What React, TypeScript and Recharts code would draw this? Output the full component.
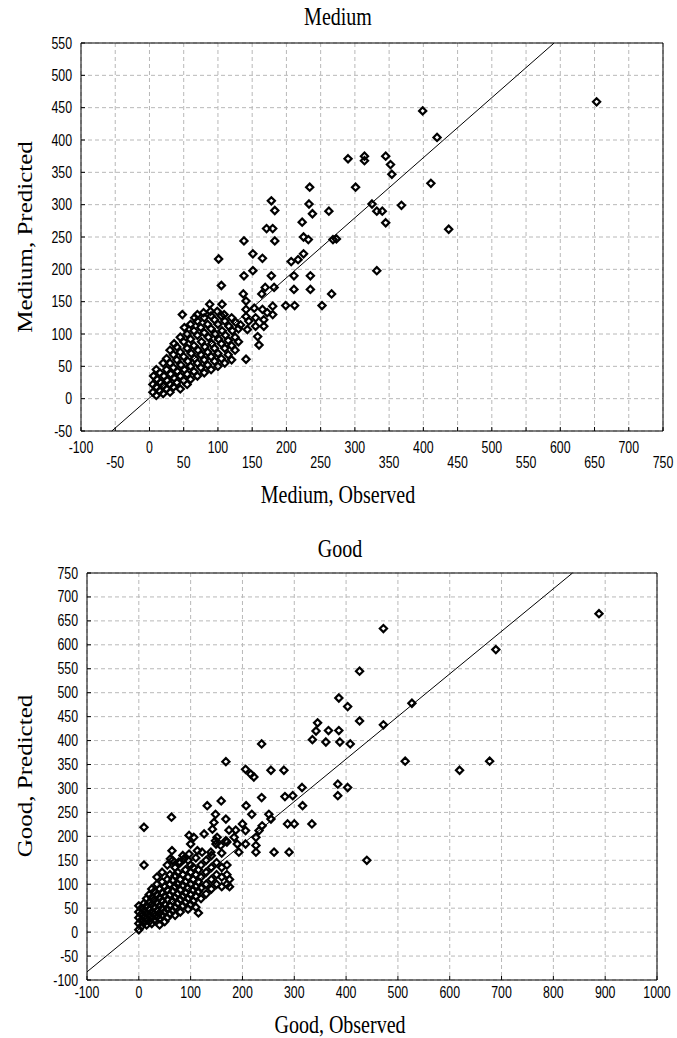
import { ScatterChart, Scatter, XAxis, YAxis, CartesianGrid, ReferenceLine } from 'recharts'

// axis ticks
const mediumXTicks = [-100, -50, 0, 50, 100, 150, 200, 250, 300, 350, 400, 450, 500, 550, 600, 650, 700, 750]
const mediumYTicks = [-50, 0, 50, 100, 150, 200, 250, 300, 350, 400, 450, 500, 550]
const goodXTicks = [-100, 0, 100, 200, 300, 400, 500, 600, 700, 800, 900, 1000]
const goodYTicks = [-100, -50, 0, 50, 100, 150, 200, 250, 300, 350, 400, 450, 500, 550, 600, 650, 700, 750]

// Medium: [observed, predicted]
const mediumPoints: [number, number][] = [
  [653, 459], [399, 445], [420, 404], [290, 371], [314, 375], [314, 368], [345, 375], [352, 362],
  [354, 347], [301, 327], [411, 333], [262, 290], [325, 301], [332, 290], [340, 290], [345, 272],
  [368, 299], [437, 262], [268, 246], [332, 198],
  [234, 327], [178, 306], [183, 291], [233, 301], [238, 286], [223, 273], [171, 263], [180, 263],
  [138, 244], [183, 244], [225, 250], [232, 246], [273, 247], [151, 224], [165, 217], [151, 198],
  [225, 224], [207, 212], [217, 215], [101, 216], [105, 175], [138, 190], [178, 190], [211, 190],
  [235, 190], [169, 172], [182, 172], [211, 169], [235, 169], [137, 162], [164, 162], [266, 162],
  [252, 144], [199, 144], [212, 144],
  [141, 151], [141, 138], [141, 127], [153, 140], [165, 138], [172, 133], [180, 143], [145, 120],
  [155, 125], [167, 122], [180, 130], [133, 114], [143, 107], [155, 112], [167, 112], [158, 96],
  [160, 83], [141, 61], [88, 146], [106, 146], [48, 130], [70, 130], [79, 133], [89, 135],
  [99, 135], [109, 130],
  [5, 10], [5, 22], [6, 35], [10, 5], [10, 18], [11, 30], [10, 45], [15, 12], [16, 25], [15, 40],
  [20, 8], [20, 20], [21, 35], [20, 55], [25, 15], [26, 28], [25, 45], [25, 62], [30, 10], [30, 22],
  [31, 38], [30, 55], [30, 75], [35, 18], [36, 32], [35, 48], [35, 68], [36, 85], [40, 25], [41, 42],
  [40, 60], [40, 80], [45, 15], [45, 35], [46, 52], [45, 72], [45, 95], [50, 28], [51, 45], [50, 65],
  [50, 88], [51, 110], [55, 22], [55, 38], [56, 58], [55, 78], [55, 100], [60, 30], [60, 50], [61, 70],
  [60, 92], [60, 115], [65, 42], [66, 62], [65, 82], [65, 105], [66, 125], [70, 35], [70, 55], [71, 75],
  [70, 98], [70, 120], [75, 48], [75, 68], [76, 88], [75, 110], [80, 40], [80, 60], [81, 80], [80, 102],
  [80, 125], [85, 52], [85, 72], [86, 95], [85, 115], [90, 45], [90, 65], [91, 85], [90, 108], [90, 128],
  [95, 58], [95, 78], [96, 100], [95, 122], [100, 50], [100, 70], [101, 92], [100, 115], [105, 62],
  [105, 85], [106, 105], [105, 128], [110, 55], [110, 78], [111, 98], [110, 120], [115, 68], [115, 90],
  [116, 112], [120, 60], [120, 82], [121, 105], [120, 125], [125, 75], [125, 95], [126, 118], [130, 88],
  [130, 108],
]

// Good: [observed, predicted]
const goodPoints: [number, number][] = [
  [888, 665], [472, 634], [689, 590], [426, 545], [386, 489], [403, 471], [527, 478], [426, 441],
  [472, 433], [345, 437], [342, 420], [335, 402], [366, 421], [386, 421], [361, 397], [388, 397],
  [408, 393], [315, 302], [514, 357], [619, 338], [677, 357], [384, 309], [403, 302], [384, 285],
  [440, 150],
  [237, 393], [168, 356], [206, 340], [216, 330], [222, 324], [255, 338], [280, 338], [282, 283],
  [297, 285], [237, 281], [159, 274], [132, 264], [207, 264], [218, 246], [316, 264], [148, 246],
  [168, 236], [251, 246], [255, 236], [238, 222], [232, 212], [226, 198], [287, 226], [300, 226],
  [334, 226], [145, 229], [142, 215], [200, 226], [174, 213], [187, 213], [184, 198], [168, 191],
  [158, 181], [148, 191], [190, 184], [193, 167], [226, 181], [226, 167], [261, 167], [290, 167],
  [126, 205], [106, 198], [100, 184], [122, 167], [139, 167], [63, 240], [10, 219], [97, 202],
  [113, 170], [97, 163], [87, 153], [64, 170], [61, 153], [77, 146], [151, 198], [206, 212],
  [149, 184], [170, 188], [206, 184], [10, 140],
  [0, 5], [0, 18], [0, 30], [0, 42], [0, 55], [5, 12], [5, 25], [5, 38], [5, 50], [10, 20],
  [10, 32], [10, 45], [10, 60], [15, 15], [15, 28], [15, 40], [15, 55], [15, 70], [20, 22], [20, 35],
  [20, 48], [20, 62], [20, 78], [25, 18], [25, 30], [25, 42], [25, 58], [25, 72], [25, 90], [30, 25],
  [30, 38], [30, 52], [30, 68], [30, 85], [35, 32], [35, 45], [35, 62], [35, 78], [35, 100], [35, 115],
  [40, 15], [40, 28], [40, 40], [40, 55], [40, 72], [40, 90], [45, 35], [45, 50], [45, 65], [45, 82],
  [45, 105], [45, 125], [50, 22], [50, 42], [50, 58], [50, 75], [50, 95], [55, 30], [55, 48], [55, 68],
  [55, 88], [55, 110], [55, 140], [60, 38], [60, 55], [60, 78], [60, 100], [60, 120], [65, 45], [65, 65],
  [65, 85], [65, 108], [65, 150], [70, 35], [70, 52], [70, 72], [70, 95], [70, 118], [70, 135], [75, 60],
  [75, 80], [75, 100], [75, 125], [80, 42], [80, 68], [80, 88], [80, 110], [80, 145], [85, 55], [85, 75],
  [85, 98], [85, 120], [85, 160], [90, 62], [90, 82], [90, 105], [90, 130], [95, 48], [95, 70], [95, 92],
  [95, 115], [95, 150], [100, 58], [100, 78], [100, 100], [100, 125], [100, 140], [105, 65], [105, 88],
  [105, 110], [105, 135], [110, 52], [110, 75], [110, 95], [110, 120], [110, 155], [115, 40], [115, 85],
  [115, 105], [115, 130], [120, 70], [120, 92], [120, 115], [120, 140], [130, 80], [130, 100], [130, 125],
  [130, 150], [140, 90], [140, 110], [140, 135], [140, 160], [150, 100], [150, 120], [150, 145], [160, 95],
  [160, 115], [160, 135], [160, 165], [170, 100], [170, 120], [170, 140], [175, 95], [175, 110],
]

// fitted lines (end points on the frame)
const mediumFit = [{ x: -55, y: -50 }, { x: 591, y: 550 }]
const goodFit = [{ x: -100, y: -83 }, { x: 837, y: 750 }]

const mediumData = mediumPoints.map(([x, y]) => ({ x, y }))
const goodData = goodPoints.map(([x, y]) => ({ x, y }))

const sans = '"Liberation Sans", Arial, sans-serif'
const serif = '"Liberation Serif", "Times New Roman", serif'

function Marker(props: any) {
  const { cx, cy } = props
  if (cx == null || cy == null) return <g />
  return (
    <path
      d={`M${cx},${cy - 3.6}L${cx + 3.6},${cy}L${cx},${cy + 3.6}L${cx - 3.6},${cy}Z`}
      fill="none"
      stroke="#000"
      strokeWidth={2.2}
    />
  )
}

// tick text, a little taller than wide like the original
function TickText({ x, y, anchor, value }: { x: number; y: number; anchor: string; value: number }) {
  return (
    <text transform={`translate(${x},${y}) scale(0.95,1.2)`} textAnchor={anchor} dominantBaseline="central"
      fontFamily={sans} fontSize={13} fill="#000">
      {value}
    </text>
  )
}

function MediumXTick({ x, y, payload }: any) {
  const second = payload.value % 100 !== 0
  return <TickText x={x} y={y + (second ? 33 : 18)} anchor="middle" value={payload.value} />
}

function GoodXTick({ x, y, payload }: any) {
  return <TickText x={x} y={y + 14} anchor="middle" value={payload.value} />
}

function YTick({ x, y, payload }: any) {
  return <TickText x={x - 11} y={y} anchor="end" value={payload.value} />
}

const titleStyle = (left: number, top: number, rotate = false): React.CSSProperties => ({
  position: 'absolute',
  left,
  top,
  transform: `translate(-50%, -50%) scale(1, 1.25)${rotate ? ' rotate(-90deg)' : ''}`,
  fontFamily: serif,
  fontSize: 20,
  whiteSpace: 'nowrap',
  color: '#000',
  lineHeight: 1,
})

export default function App() {
  return (
    <div style={{ position: 'absolute', left: 0, top: 0, width: 677, height: 1038, background: '#fff' }}>
      <div style={{ position: 'absolute', left: 0, top: 0 }}>
        <ScatterChart width={677} height={505} margin={{ top: 42, right: 13, bottom: 14, left: 0 }}>
          <CartesianGrid stroke="#b8b8b8" strokeDasharray="4 3" />
          <XAxis type="number" dataKey="x" domain={[-100, 750]} ticks={mediumXTicks} allowDataOverflow
            height={60} interval={0} stroke="#000" tickSize={-4} tick={<MediumXTick />} />
          <XAxis xAxisId="top" type="number" orientation="top" domain={[-100, 750]} ticks={mediumXTicks}
            allowDataOverflow height={1} interval={0} stroke="#000" tickSize={-4} tick={false} />
          <YAxis type="number" dataKey="y" domain={[-50, 550]} ticks={mediumYTicks} allowDataOverflow
            width={81} interval={0} stroke="#000" tickSize={-4} tick={<YTick />} />
          <YAxis yAxisId="right" type="number" orientation="right" domain={[-50, 550]} ticks={mediumYTicks}
            allowDataOverflow width={1} interval={0} stroke="#000" tickSize={-4} tick={false} />
          <ReferenceLine segment={mediumFit} stroke="#000" strokeWidth={1} />
          <Scatter data={mediumData} shape={<Marker />} isAnimationActive={false} />
        </ScatterChart>
      </div>
      <div style={{ position: 'absolute', left: 0, top: 505 }}>
        <ScatterChart width={677} height={533} margin={{ top: 67, right: 19, bottom: 18, left: 0 }}>
          <CartesianGrid stroke="#b8b8b8" strokeDasharray="4 3" />
          <XAxis type="number" dataKey="x" domain={[-100, 1000]} ticks={goodXTicks} allowDataOverflow
            height={40} interval={0} stroke="#000" tickSize={-4} tick={<GoodXTick />} />
          <XAxis xAxisId="top" type="number" orientation="top" domain={[-100, 1000]} ticks={goodXTicks}
            allowDataOverflow height={1} interval={0} stroke="#000" tickSize={-4} tick={false} />
          <YAxis type="number" dataKey="y" domain={[-100, 750]} ticks={goodYTicks} allowDataOverflow
            width={87} interval={0} stroke="#000" tickSize={-4} tick={<YTick />} />
          <YAxis yAxisId="right" type="number" orientation="right" domain={[-100, 750]} ticks={goodYTicks}
            allowDataOverflow width={1} interval={0} stroke="#000" tickSize={-4} tick={false} />
          <ReferenceLine segment={goodFit} stroke="#000" strokeWidth={1} />
          <Scatter data={goodData} shape={<Marker />} isAnimationActive={false} />
        </ScatterChart>
      </div>

      <div style={titleStyle(338, 16)}>Medium</div>
      <div style={titleStyle(25, 237, true)}>Medium, Predicted</div>
      <div style={titleStyle(338, 494)}>Medium, Observed</div>
      <div style={titleStyle(340, 548)}>Good</div>
      <div style={titleStyle(25, 776, true)}>Good, Predicted</div>
      <div style={titleStyle(340, 1024)}>Good, Observed</div>
    </div>
  )
}
